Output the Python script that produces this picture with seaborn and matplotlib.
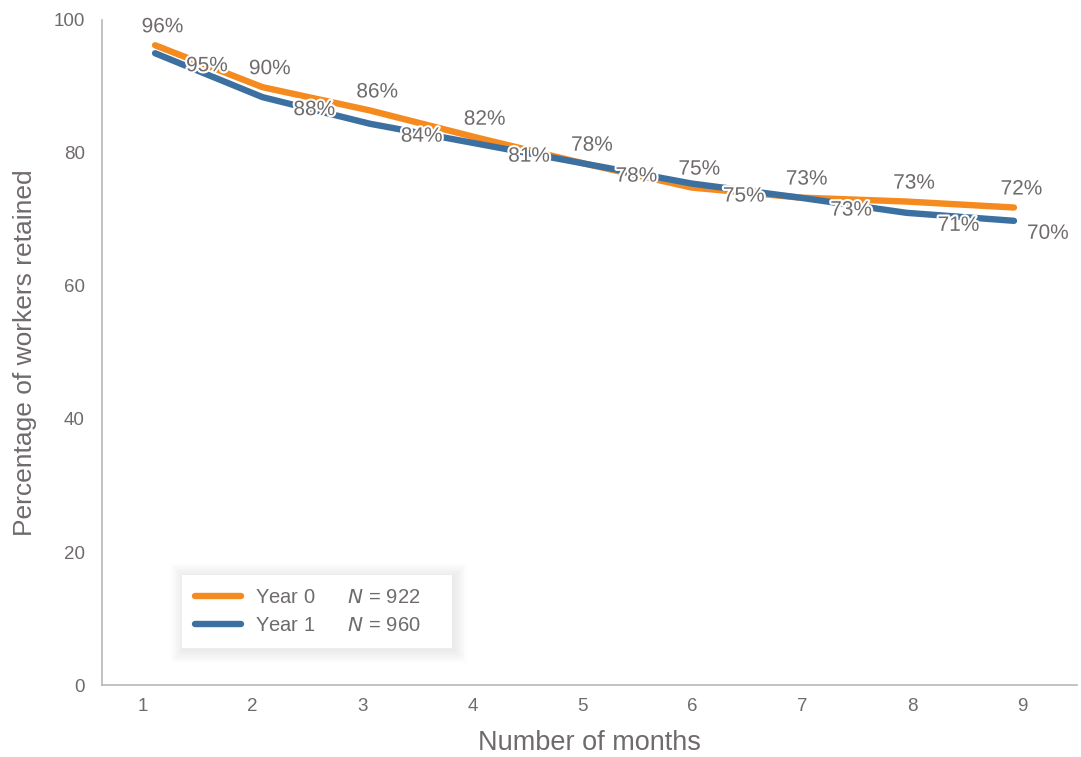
import matplotlib
matplotlib.use("Agg")
import matplotlib.pyplot as plt
import matplotlib.patheffects as pe
from matplotlib.lines import Line2D
from matplotlib.patches import Rectangle
import pandas as pd
import seaborn as sns

# Data
months = [1, 2, 3, 4, 5, 6, 7, 8, 9]
year0 = [96.2, 89.9, 86.4, 82.3, 78.4, 74.8, 73.3, 72.7, 71.8]
year1 = [95.0, 88.4, 84.4, 81.4, 78.4, 75.4, 73.3, 71.0, 69.8]
series_names = ["Year 0", "Year 1"]
sample_sizes = [922, 960]
y_ticks = [0, 20, 40, 60, 80, 100]

orange = "#F58A1F"
blue = "#3B70A1"
grey = "#6F6B6B"

df = pd.DataFrame({
    "month": months * 2,
    "value": year0 + year1,
    "series": [series_names[0]] * len(months) + [series_names[1]] * len(months),
})

sns.set_style("white")
plt.rcParams["font.family"] = ["Liberation Sans", "DejaVu Sans"]

fig = plt.figure(figsize=(10.81, 7.57), dpi=100)
ax = fig.add_axes([0.0944, 0.0951, 0.9019, 0.8785])

# axis with the category ticks
ax.set_xlim(0.63, 9.5)
ax.set_ylim(0, 100)
ax.set_xticks(months)
ax.set_yticks(y_ticks)
ax.tick_params(axis="both", length=0, labelsize=13.5, labelcolor=grey)
ax.tick_params(axis="y", pad=12.5)
ax.tick_params(axis="x", pad=9)
ax.set_xlabel("Number of months", fontsize=19.5, color=grey, labelpad=11)
ax.set_ylabel("Percentage of workers retained", fontsize=19, color=grey, labelpad=12)
for side in ["top", "right"]:
    ax.spines[side].set_visible(False)
for side in ["left", "bottom"]:
    ax.spines[side].set_color("#b8b8b8")
    ax.spines[side].set_linewidth(1.2)

# the lines sit on a slightly different x scale (as in the original)
ax2 = ax.twiny()
ax2.set_xlim(0.506, 9.587)
ax2.set_xticks([])
for s in ax2.spines.values():
    s.set_visible(False)

sns.lineplot(data=df, x="month", y="value", hue="series",
             palette=[orange, blue], linewidth=4.6, ax=ax2, legend=False)
ax2.set_xlabel("")
ax2.set_ylabel("")

# Data labels: Year 0 above, Year 1 below-right
halo = [pe.withStroke(linewidth=3, foreground="white")]
for x, v in zip(months, year0):
    ax2.annotate(f"{v:.0f}%", (x, v), xytext=(5.4, 13.3), textcoords="offset points",
                 ha="center", va="center", fontsize=15, color=grey, path_effects=halo)
for i, (x, v) in enumerate(zip(months, year1)):
    dx = 24.5 if i == len(months) - 1 else 37.4
    ax2.annotate(f"{v:.0f}%", (x, v), xytext=(dx, -9), textcoords="offset points",
                 ha="center", va="center", fontsize=15, color=grey, path_effects=halo)

# Legend with sample sizes
handles = [Line2D([], [], color=c, linewidth=4.6) for c in [orange, blue]]
labels = [f"{s}      $N$ = {n}    " for s, n in zip(series_names, sample_sizes)]
leg = ax2.legend(handles, labels, loc="lower left", bbox_to_anchor=(0.082, 0.056),
                 fontsize=14.5, frameon=True, fancybox=False, handlelength=2.3,
                 borderpad=0.65, labelspacing=0.45, handletextpad=0.7,
                 borderaxespad=0, framealpha=1)
leg.get_frame().set_edgecolor("white")
leg.get_frame().set_linewidth(0)
for t in leg.get_texts():
    t.set_color(grey)

# soft shadow around the legend box
fig.canvas.draw()
bb = leg.get_window_extent()
for k in range(10, 0, -1):
    grow = k * 1.3
    ax2.add_patch(Rectangle((bb.x0 - grow + 2, bb.y0 - grow - 2), bb.width + 2 * grow, bb.height + 2 * grow,
                            transform=None, facecolor="black", edgecolor="none",
                            alpha=0.009, zorder=4.5, clip_on=False))

fig.savefig("out.png", dpi=100)
